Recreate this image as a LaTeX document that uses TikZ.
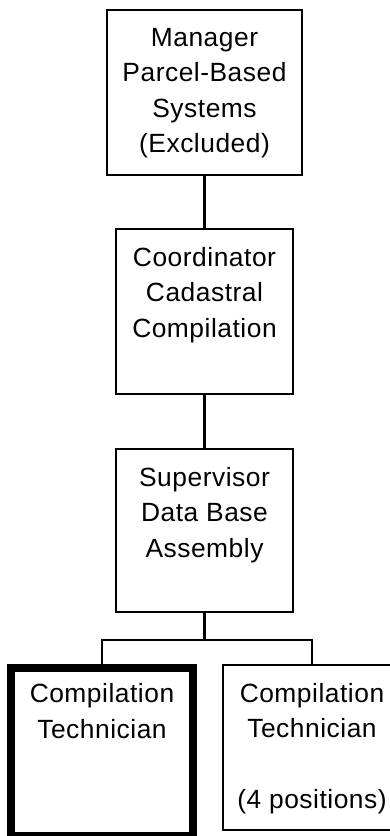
\documentclass[tikz,border=0pt]{standalone}
\usepackage{fontspec}
\setmainfont{Liberation Sans}[LetterSpace=2]
\usepackage{tikz}

\begin{document}
\begin{tikzpicture}[
  post/.style={draw, line width=1.2pt, minimum width=#1, inner sep=0pt},
  txt/.style={anchor=north, align=center, inner sep=0pt, yshift=-0.38cm,
    font=\fontsize{15}{20.2}\selectfont},
  link/.style={line width=1.2pt}]
\useasboundingbox (0,0) rectangle (7.8,-16.72);
\node[post=3.9cm, minimum height=3.3cm] (mgr) at (4.09,-1.85) {};
\node[post=3.54cm, minimum height=3.3cm] (coord) at (4.09,-6.23) {};
\node[post=3.54cm, minimum height=3.26cm] (super) at (4.09,-10.61) {};
\node[post=3.64cm, minimum height=3.36cm, line width=4pt] (tech) at (2.04,-15.04) {};
\node[post=3.56cm, minimum height=3.3cm] (techs) at (6.24,-14.95) {};
\node[txt] (mgrtxt) at (mgr.north) {Manager\\Parcel-Based\\Systems\\(Excluded)};
\node[txt] (coordtxt) at (coord.north) {Coordinator\\Cadastral\\Compilation};
\node[txt] (supertxt) at (super.north) {Supervisor\\Data Base\\Assembly};
\node[txt] (techtxt) at (tech.north) {Compilation\\Technician};
\node[txt] (techstxt) at (techs.north) {Compilation\\Technician\\ \\(4 positions)};
\coordinate (bus) at (4.09,-12.8);
\draw[link] (mgr) -- (coord);
\draw[link] (coord) -- (super);
\draw[link] (super) -- (bus) -| (tech);
\draw[link] (bus) -| (techs);
\end{tikzpicture}
\end{document}
